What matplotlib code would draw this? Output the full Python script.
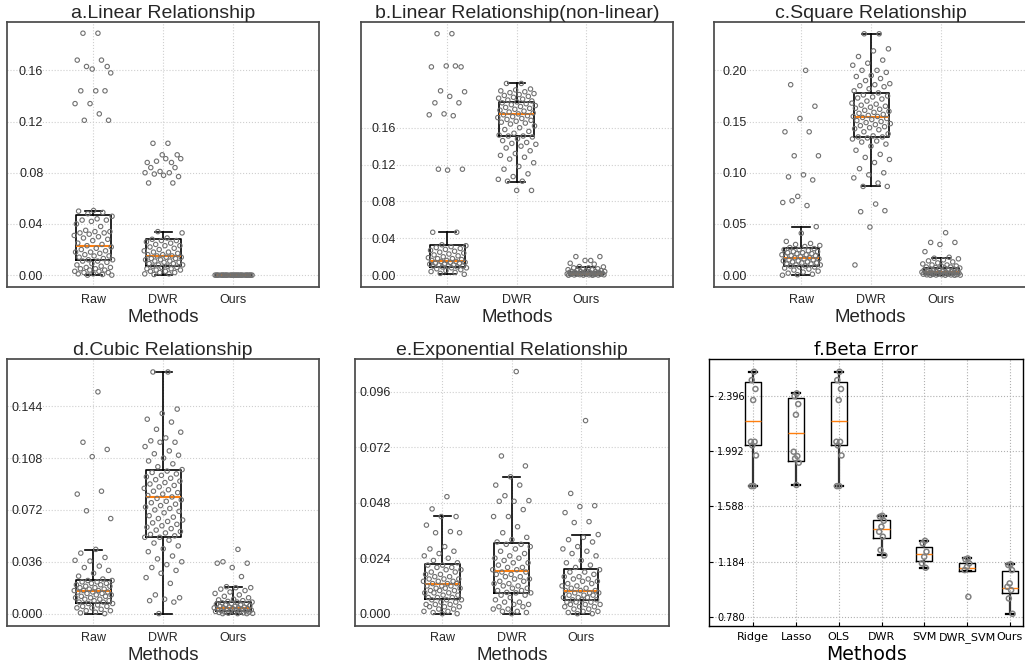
import numpy as np
import matplotlib
matplotlib.use('Agg')
from matplotlib import pyplot as plt

plt.rcParams['font.family'] = ['Liberation Sans', 'DejaVu Sans']

methods = ['Raw', 'DWR', 'Ours']
beta_methods = ['Ridge', 'Lasso', 'OLS', 'DWR', 'SVM', 'DWR_SVM', 'Ours']

titles = ['a.Linear Relationship', 'b.Linear Relationship(non-linear)', 'c.Square Relationship',
          'd.Cubic Relationship', 'e.Exponential Relationship']

# box stats: (whislo, q1, med, q3, whishi)
a_box = [(0.0, 0.012, 0.0227, 0.047, 0.0505), (0.0005, 0.0075, 0.015, 0.028, 0.034), (0.0, 0.0, 0.0, 0.0, 0.0)]
b_box = [(0.001, 0.0094, 0.0159, 0.0329, 0.0466), (0.1015, 0.1513, 0.1744, 0.1874, 0.208), (0.0, 0.0003, 0.0015, 0.004, 0.0094)]
c_box = [(0.0, 0.0088, 0.0172, 0.0269, 0.0474), (0.0867, 0.1347, 0.1549, 0.178, 0.2357), (0.0, 0.0013, 0.003, 0.0075, 0.0166)]
d_box = [(0.0, 0.0072, 0.0155, 0.0231, 0.0444), (0.0, 0.0534, 0.0807, 0.1, 0.1678), (0.0, 0.0018, 0.0042, 0.0083, 0.0187)]
e_box = [(0.0, 0.0062, 0.0127, 0.0213, 0.0422), (0.0, 0.0091, 0.0185, 0.0304, 0.0591), (0.0, 0.0058, 0.0098, 0.0192, 0.0342)]
f_box = [(1.736, 2.033, 2.213, 2.498, 2.571), (1.744, 1.921, 2.121, 2.377, 2.418), (1.736, 2.033, 2.213, 2.498, 2.571),
         (1.23, 1.357, 1.42, 1.488, 1.52), (1.14, 1.189, 1.238, 1.294, 1.337), (1.118, 1.118, 1.135, 1.172, 1.208),
         (0.804, 0.958, 0.994, 1.118, 1.165)]

a_raw = [0.189, 0.189, 0.163, 0.161, 0.168, 0.168, 0.163, 0.158, 0.144, 0.144, 0.144, 0.134, 0.134, 0.126, 0.121, 0.121,
         0.0505, 0.050, 0.049, 0.048, 0.046, 0.044, 0.043, 0.043, 0.042, 0.040, 0.038, 0.035, 0.034, 0.034, 0.033,
         0.033, 0.032, 0.031, 0.030, 0.029, 0.028, 0.027, 0.025, 0.024, 0.023, 0.022, 0.021, 0.020, 0.019, 0.018,
         0.018, 0.017, 0.016, 0.015, 0.015, 0.014, 0.013, 0.012, 0.012, 0.011, 0.011, 0.010, 0.009, 0.008, 0.007,
         0.006, 0.006, 0.005, 0.005, 0.004, 0.004, 0.003, 0.003, 0.002, 0.002, 0.001, 0.001, 0.0005, 0.0, 0.0]
a_dwr = [0.103, 0.103, 0.094, 0.094, 0.088, 0.088, 0.089, 0.091, 0.091, 0.084, 0.084, 0.081, 0.080, 0.080, 0.079,
         0.077, 0.078, 0.072, 0.072,
         0.034, 0.033, 0.029, 0.028, 0.027, 0.027, 0.026, 0.025, 0.024, 0.023, 0.023, 0.022, 0.021, 0.020, 0.019,
         0.018, 0.018, 0.017, 0.016, 0.016, 0.015, 0.015, 0.014, 0.014, 0.013, 0.013, 0.012, 0.012, 0.011, 0.011,
         0.010, 0.010, 0.009, 0.009, 0.008, 0.008, 0.007, 0.007, 0.006, 0.006, 0.005, 0.005, 0.004, 0.004, 0.003,
         0.003, 0.002, 0.002, 0.001, 0.001, 0.0005]
a_ours = [0.0, 0.0, 0.0, 0.0, 0.0, 0.0, 0.0, 0.0, 0.0, 0.0, 0.0, 0.0, 0.0, 0.0, 0.0,
          0.0, 0.0, 0.0, 0.0, 0.0, 0.0, 0.0, 0.0, 0.0, 0.0, 0.0, 0.0, 0.0, 0.0, 0.0]

b_raw = [0.262, 0.262, 0.226, 0.227, 0.226, 0.227, 0.200, 0.199, 0.194, 0.187, 0.187, 0.175, 0.174, 0.173, 0.115,
         0.115, 0.114,
         0.0466, 0.0466, 0.033, 0.032, 0.031, 0.030, 0.029, 0.028, 0.027, 0.026, 0.025, 0.024, 0.023, 0.022, 0.021,
         0.020, 0.019, 0.018, 0.018, 0.017, 0.016, 0.016, 0.015, 0.015, 0.014, 0.014, 0.013, 0.013, 0.012, 0.012,
         0.011, 0.011, 0.010, 0.010, 0.010, 0.009, 0.009, 0.008, 0.008, 0.007, 0.006, 0.005, 0.004, 0.003, 0.002,
         0.001]
b_dwr = [0.208, 0.208, 0.202, 0.201, 0.200, 0.199, 0.198, 0.197, 0.196, 0.195, 0.194, 0.193, 0.192, 0.191, 0.190,
         0.189, 0.188, 0.187, 0.186, 0.185, 0.184, 0.183, 0.182, 0.181, 0.180, 0.179, 0.178, 0.177, 0.176, 0.175,
         0.174, 0.173, 0.172, 0.171, 0.170, 0.169, 0.168, 0.167, 0.166, 0.165, 0.164, 0.162, 0.160, 0.158, 0.156,
         0.154, 0.152, 0.151, 0.151, 0.150, 0.148, 0.146, 0.144, 0.143, 0.142, 0.140, 0.138, 0.135, 0.132, 0.130,
         0.128, 0.126, 0.122, 0.118, 0.115, 0.110, 0.107, 0.104, 0.102, 0.102, 0.092, 0.092]
b_ours = [0.016, 0.0202, 0.0202, 0.016, 0.013, 0.012,
          0.0094, 0.009, 0.008, 0.008, 0.007, 0.007, 0.006, 0.006, 0.005, 0.005, 0.005, 0.004, 0.004, 0.004, 0.004,
          0.003, 0.003, 0.003, 0.003, 0.003, 0.002, 0.002, 0.002, 0.002, 0.002, 0.002, 0.0015, 0.0015, 0.001, 0.001,
          0.001, 0.001, 0.001, 0.0008, 0.0006, 0.0005, 0.0004, 0.0003, 0.0002, 0.0001, 0.0, 0.0]

c_raw = [0.2, 0.186, 0.165, 0.153, 0.14, 0.14, 0.1166, 0.1166, 0.098, 0.096, 0.093, 0.077, 0.071, 0.068, 0.0727,
         0.0474, 0.041, 0.033, 0.031, 0.030, 0.029, 0.028, 0.027, 0.026, 0.025, 0.025, 0.024, 0.023, 0.023, 0.022,
         0.022, 0.021, 0.021, 0.020, 0.020, 0.019, 0.019, 0.018, 0.018, 0.017, 0.017, 0.016, 0.016, 0.015, 0.015,
         0.014, 0.014, 0.013, 0.013, 0.012, 0.012, 0.011, 0.011, 0.010, 0.010, 0.009, 0.009, 0.008, 0.008, 0.007,
         0.006, 0.005, 0.004, 0.003, 0.002, 0.001, 0.0005, 0.0]
c_dwr = [0.0695, 0.062, 0.063, 0.047, 0.01,
         0.2357, 0.2357, 0.221, 0.219, 0.2135, 0.210, 0.207, 0.205, 0.200, 0.200, 0.198, 0.195, 0.194, 0.192, 0.190,
         0.187, 0.186, 0.185, 0.184, 0.182, 0.180, 0.178, 0.176, 0.175, 0.174, 0.173, 0.172, 0.170, 0.168, 0.167,
         0.166, 0.165, 0.164, 0.163, 0.162, 0.161, 0.160, 0.159, 0.158, 0.157, 0.156, 0.155, 0.155, 0.154, 0.153,
         0.152, 0.151, 0.150, 0.149, 0.148, 0.147, 0.146, 0.145, 0.144, 0.143, 0.142, 0.140, 0.138, 0.136, 0.135,
         0.135, 0.134, 0.133, 0.131, 0.130, 0.128, 0.126, 0.122, 0.118, 0.115, 0.113, 0.110, 0.104, 0.100, 0.098,
         0.095, 0.090, 0.0867, 0.0867]
c_ours = [0.0415, 0.032, 0.032, 0.030, 0.023, 0.0175,
          0.0166, 0.016, 0.015, 0.014, 0.013, 0.012, 0.011, 0.010, 0.010, 0.009, 0.009, 0.008, 0.008, 0.0075, 0.007,
          0.007, 0.006, 0.006, 0.006, 0.005, 0.005, 0.005, 0.004, 0.004, 0.004, 0.004, 0.0035, 0.003, 0.003, 0.003,
          0.003, 0.0025, 0.002, 0.002, 0.002, 0.002, 0.0015, 0.0015, 0.0013, 0.001, 0.001, 0.001, 0.0008, 0.0006,
          0.0005, 0.0004, 0.0003, 0.0002, 0.0001, 0.0, 0.0, 0.0]

d_raw = [0.154, 0.119, 0.114, 0.109, 0.083, 0.085, 0.0714, 0.066,
         0.0446, 0.042, 0.039, 0.0365, 0.037, 0.033, 0.032, 0.030, 0.028, 0.026, 0.024, 0.023, 0.023, 0.022, 0.022,
         0.021, 0.021, 0.020, 0.020, 0.019, 0.019, 0.018, 0.018, 0.017, 0.017, 0.016, 0.016, 0.016, 0.015, 0.015,
         0.015, 0.014, 0.014, 0.013, 0.013, 0.012, 0.012, 0.011, 0.011, 0.010, 0.010, 0.009, 0.009, 0.008, 0.008,
         0.007, 0.007, 0.006, 0.005, 0.005, 0.004, 0.004, 0.003, 0.002, 0.002, 0.001, 0.0005, 0.0]
d_dwr = [0.1678, 0.1678, 0.142, 0.139, 0.135, 0.133, 0.128, 0.126, 0.122, 0.120, 0.119, 0.119, 0.116, 0.113, 0.111,
         0.110, 0.108, 0.106, 0.104, 0.102, 0.100, 0.099, 0.098, 0.097, 0.096, 0.095, 0.094, 0.093, 0.092, 0.091,
         0.090, 0.089, 0.088, 0.087, 0.086, 0.085, 0.084, 0.083, 0.082, 0.081, 0.080, 0.079, 0.078, 0.077, 0.076,
         0.075, 0.074, 0.073, 0.072, 0.071, 0.070, 0.068, 0.067, 0.066, 0.065, 0.064, 0.063, 0.062, 0.061, 0.060,
         0.059, 0.058, 0.057, 0.056, 0.055, 0.054, 0.053, 0.053, 0.051, 0.049, 0.047, 0.045, 0.043, 0.040, 0.038,
         0.036, 0.034, 0.032, 0.030, 0.028, 0.025, 0.021, 0.013, 0.011, 0.010, 0.009, 0.008, 0.0]
d_ours = [0.0446, 0.036, 0.035, 0.032, 0.035, 0.0257,
          0.0187, 0.018, 0.018, 0.017, 0.016, 0.015, 0.014, 0.013, 0.012, 0.011, 0.010, 0.0095, 0.009, 0.0085, 0.008,
          0.008, 0.0075, 0.007, 0.007, 0.0065, 0.006, 0.006, 0.0055, 0.005, 0.005, 0.0045, 0.0045, 0.004, 0.004,
          0.004, 0.0035, 0.0035, 0.003, 0.003, 0.003, 0.0025, 0.0025, 0.002, 0.002, 0.002, 0.0015, 0.0015, 0.001,
          0.001, 0.001, 0.0008, 0.0005, 0.0003, 0.0002, 0.0, 0.0, 0.0]

e_raw = [0.0506, 0.0453, 0.042, 0.042, 0.0383, 0.0355, 0.035, 0.035, 0.029, 0.028, 0.027, 0.026, 0.025, 0.024,
         0.023, 0.022, 0.021, 0.021, 0.020, 0.020, 0.019, 0.019, 0.018, 0.018, 0.017, 0.017, 0.016, 0.016, 0.015,
         0.015, 0.015, 0.014, 0.014, 0.014, 0.013, 0.013, 0.013, 0.012, 0.012, 0.012, 0.011, 0.011, 0.011, 0.010,
         0.010, 0.010, 0.009, 0.009, 0.009, 0.008, 0.008, 0.007, 0.007, 0.007, 0.006, 0.006, 0.006, 0.005, 0.005,
         0.004, 0.004, 0.004, 0.003, 0.003, 0.003, 0.002, 0.002, 0.001, 0.001, 0.0005, 0.0, 0.0]
e_dwr = [0.1047, 0.0682, 0.0639, 0.0592, 0.0556, 0.0556, 0.051, 0.0489, 0.0486, 0.0486, 0.045, 0.042, 0.042, 0.0376,
         0.035, 0.033, 0.032, 0.031, 0.030, 0.030, 0.029, 0.028, 0.027, 0.026, 0.025, 0.024, 0.024, 0.023, 0.022,
         0.022, 0.021, 0.020, 0.020, 0.019, 0.019, 0.018, 0.018, 0.017, 0.017, 0.016, 0.016, 0.015, 0.015, 0.014,
         0.014, 0.013, 0.013, 0.012, 0.012, 0.011, 0.011, 0.010, 0.010, 0.0092, 0.009, 0.009, 0.008, 0.008, 0.007,
         0.006, 0.005, 0.005, 0.004, 0.004, 0.003, 0.003, 0.002, 0.002, 0.001, 0.001, 0.0005, 0.0]
e_ours = [0.0835, 0.052, 0.0467, 0.0463, 0.0437, 0.0398, 0.0394, 0.0342, 0.033, 0.032, 0.031, 0.029, 0.028, 0.027,
          0.026, 0.025, 0.023, 0.022, 0.021, 0.020, 0.019, 0.018, 0.018, 0.017, 0.016, 0.016, 0.015, 0.015, 0.014,
          0.014, 0.013, 0.013, 0.012, 0.012, 0.011, 0.011, 0.010, 0.010, 0.010, 0.009, 0.009, 0.009, 0.008, 0.008,
          0.008, 0.007, 0.007, 0.007, 0.006, 0.006, 0.006, 0.005, 0.005, 0.005, 0.004, 0.004, 0.004, 0.003, 0.003,
          0.003, 0.002, 0.002, 0.001, 0.001, 0.0005, 0.0, 0.0]

f_ridge = [2.571, 2.51, 2.445, 2.364, 2.06, 2.06, 2.033, 1.96, 1.736, 1.736]
f_lasso = [2.413, 2.393, 2.335, 2.257, 1.987, 1.955, 1.938, 1.907, 1.744]
f_ols = [2.571, 2.51, 2.445, 2.364, 2.06, 2.06, 2.033, 1.96, 1.736, 1.736]
f_dwr = [1.52, 1.513, 1.483, 1.44, 1.403, 1.367, 1.269, 1.23]
f_svm = [1.337, 1.318, 1.257, 1.22, 1.172, 1.14]
f_dwr_svm = [1.208, 1.201, 1.172, 1.147, 1.123, 0.928]
f_ours = [1.165, 1.16, 1.123, 1.026, 1.001, 0.977, 0.916, 0.804]

panel_points = [[a_raw, a_dwr, a_ours], [b_raw, b_dwr, b_ours], [c_raw, c_dwr, c_ours],
                [d_raw, d_dwr, d_ours], [e_raw, e_dwr, e_ours]]
panel_boxes = [a_box, b_box, c_box, d_box, e_box]
panel_yticks = [[0.0, 0.04, 0.08, 0.12, 0.16], [0.0, 0.04, 0.08, 0.12, 0.16], [0.0, 0.05, 0.10, 0.15, 0.20],
                [0.0, 0.036, 0.072, 0.108, 0.144], [0.0, 0.024, 0.048, 0.072, 0.096]]
panel_ylim = [(-0.0095, 0.198), (-0.0131, 0.275), (-0.0118, 0.2475), (-0.0084, 0.1766), (-0.0052, 0.110)]
f_points = [f_ridge, f_lasso, f_ols, f_dwr, f_svm, f_dwr_svm, f_ours]
f_yticks = [0.780, 1.184, 1.588, 1.992, 2.396]


def jitter(n, spread):
    k = np.arange(1, n + 1)
    return ((k * 0.618034) % 1.0 - 0.5) * 2 * spread


def stats_of(box):
    return [dict(whislo=b[0], q1=b[1], med=b[2], q3=b[3], whishi=b[4]) for b in box]


W, H = 1025, 669
fig = plt.figure(figsize=(W / 100, H / 100), dpi=100)

# axes rectangles in pixels: left, top, width, height
rects = [(7, 21.7, 312, 265.6), (360.7, 21.7, 312.6, 265.6), (714.3, 21.7, 312.6, 265.6),
         (7, 359.3, 312, 266.4), (355, 359.3, 314, 266.4), (709.3, 359, 313.4, 266.7)]
ypads = [-26.1, -25.4, -23.3, -25.7, -25.7]
xlims = [(-0.233, 4.224), (-0.248, 4.256), (-0.239, 4.227), (-0.233, 4.224), (-0.26, 4.27)]

txt = '#262626'
for i in range(5):
    l, t, w, h = rects[i]
    ax = fig.add_axes([l / W, 1 - (t + h) / H, w / W, h / H])
    pos = [1, 2, 3]
    ax.bxp(stats_of(panel_boxes[i]), positions=pos, widths=0.5, showfliers=False,
           boxprops=dict(color='black', linewidth=1.2),
           whiskerprops=dict(color='black', linewidth=1.2),
           capprops=dict(color='black', linewidth=1.2),
           medianprops=dict(color='#ff7f0e', linewidth=1.5))
    for j, vals in enumerate(panel_points[i]):
        xs = pos[j] + jitter(len(vals), 0.28)
        ax.scatter(xs, vals, s=10, facecolors='none', edgecolors='#707070', linewidths=0.8, zorder=3)
    ax.set_xlim(*xlims[i])
    ax.set_ylim(*panel_ylim[i])
    ax.set_yticks(panel_yticks[i])
    ax.set_xticks(pos)
    ax.set_xticklabels(methods)
    ax.grid(True, linestyle=':', color='#cfcfcf', linewidth=0.8)
    ax.set_axisbelow(True)
    ax.tick_params(axis='y', length=0, pad=ypads[i], labelsize=9, labelcolor=txt)
    ax.tick_params(axis='x', length=0, pad=4.8, labelsize=9, labelcolor=txt)
    for s in ax.spines.values():
        s.set_color('#4a4a4a')
        s.set_linewidth(1.25)
    ax.set_title(titles[i], fontsize=14, color=txt, pad=2.5)
    ax.set_xlabel('Methods', fontsize=13.5, color=txt, labelpad=2)

# f panel, plain matplotlib look
l, t, w, h = rects[5]
ax = fig.add_axes([l / W, 1 - (t + h) / H, w / W, h / H])
pos = list(range(1, 8))
ax.bxp(stats_of(f_box), positions=pos, widths=0.38, showfliers=False,
       boxprops=dict(color='black', linewidth=1.0),
       whiskerprops=dict(color='#333333', linewidth=1.6),
       capprops=dict(color='black', linewidth=1.6),
       medianprops=dict(color='#ff7f0e', linewidth=1.0))
for j, vals in enumerate(f_points):
    xs = pos[j] + jitter(len(vals), 0.07)
    ax.scatter(xs, vals, s=13, facecolors='none', edgecolors='#808080', linewidths=1.1, zorder=3)
ax.set_xlim(-0.03, 7.3)
ax.set_ylim(0.717, 2.664)
ax.set_yticks(f_yticks)
ax.set_yticklabels(['%.3f' % v for v in f_yticks])
ax.set_xticks(pos)
ax.set_xticklabels(beta_methods)
ax.grid(True, linestyle=':', color='#b0b0b0', linewidth=0.8)
ax.set_axisbelow(True)
for lab in ax.get_xticklabels() + ax.get_yticklabels():
    lab.set_family('DejaVu Sans')
ax.tick_params(axis='y', direction='in', length=3, pad=-25.7, labelsize=7)
ax.tick_params(axis='x', direction='in', length=3, pad=4.5, labelsize=8)
for s in ax.spines.values():
    s.set_color('black')
    s.set_linewidth(1.0)
ax.set_title('f.Beta Error', fontsize=13.2, family='DejaVu Sans', pad=2.9)
ax.set_xlabel('Methods', fontsize=13.6, family='DejaVu Sans', labelpad=1.5)

fig.savefig('out.png', dpi=100)
plt.close(fig)
